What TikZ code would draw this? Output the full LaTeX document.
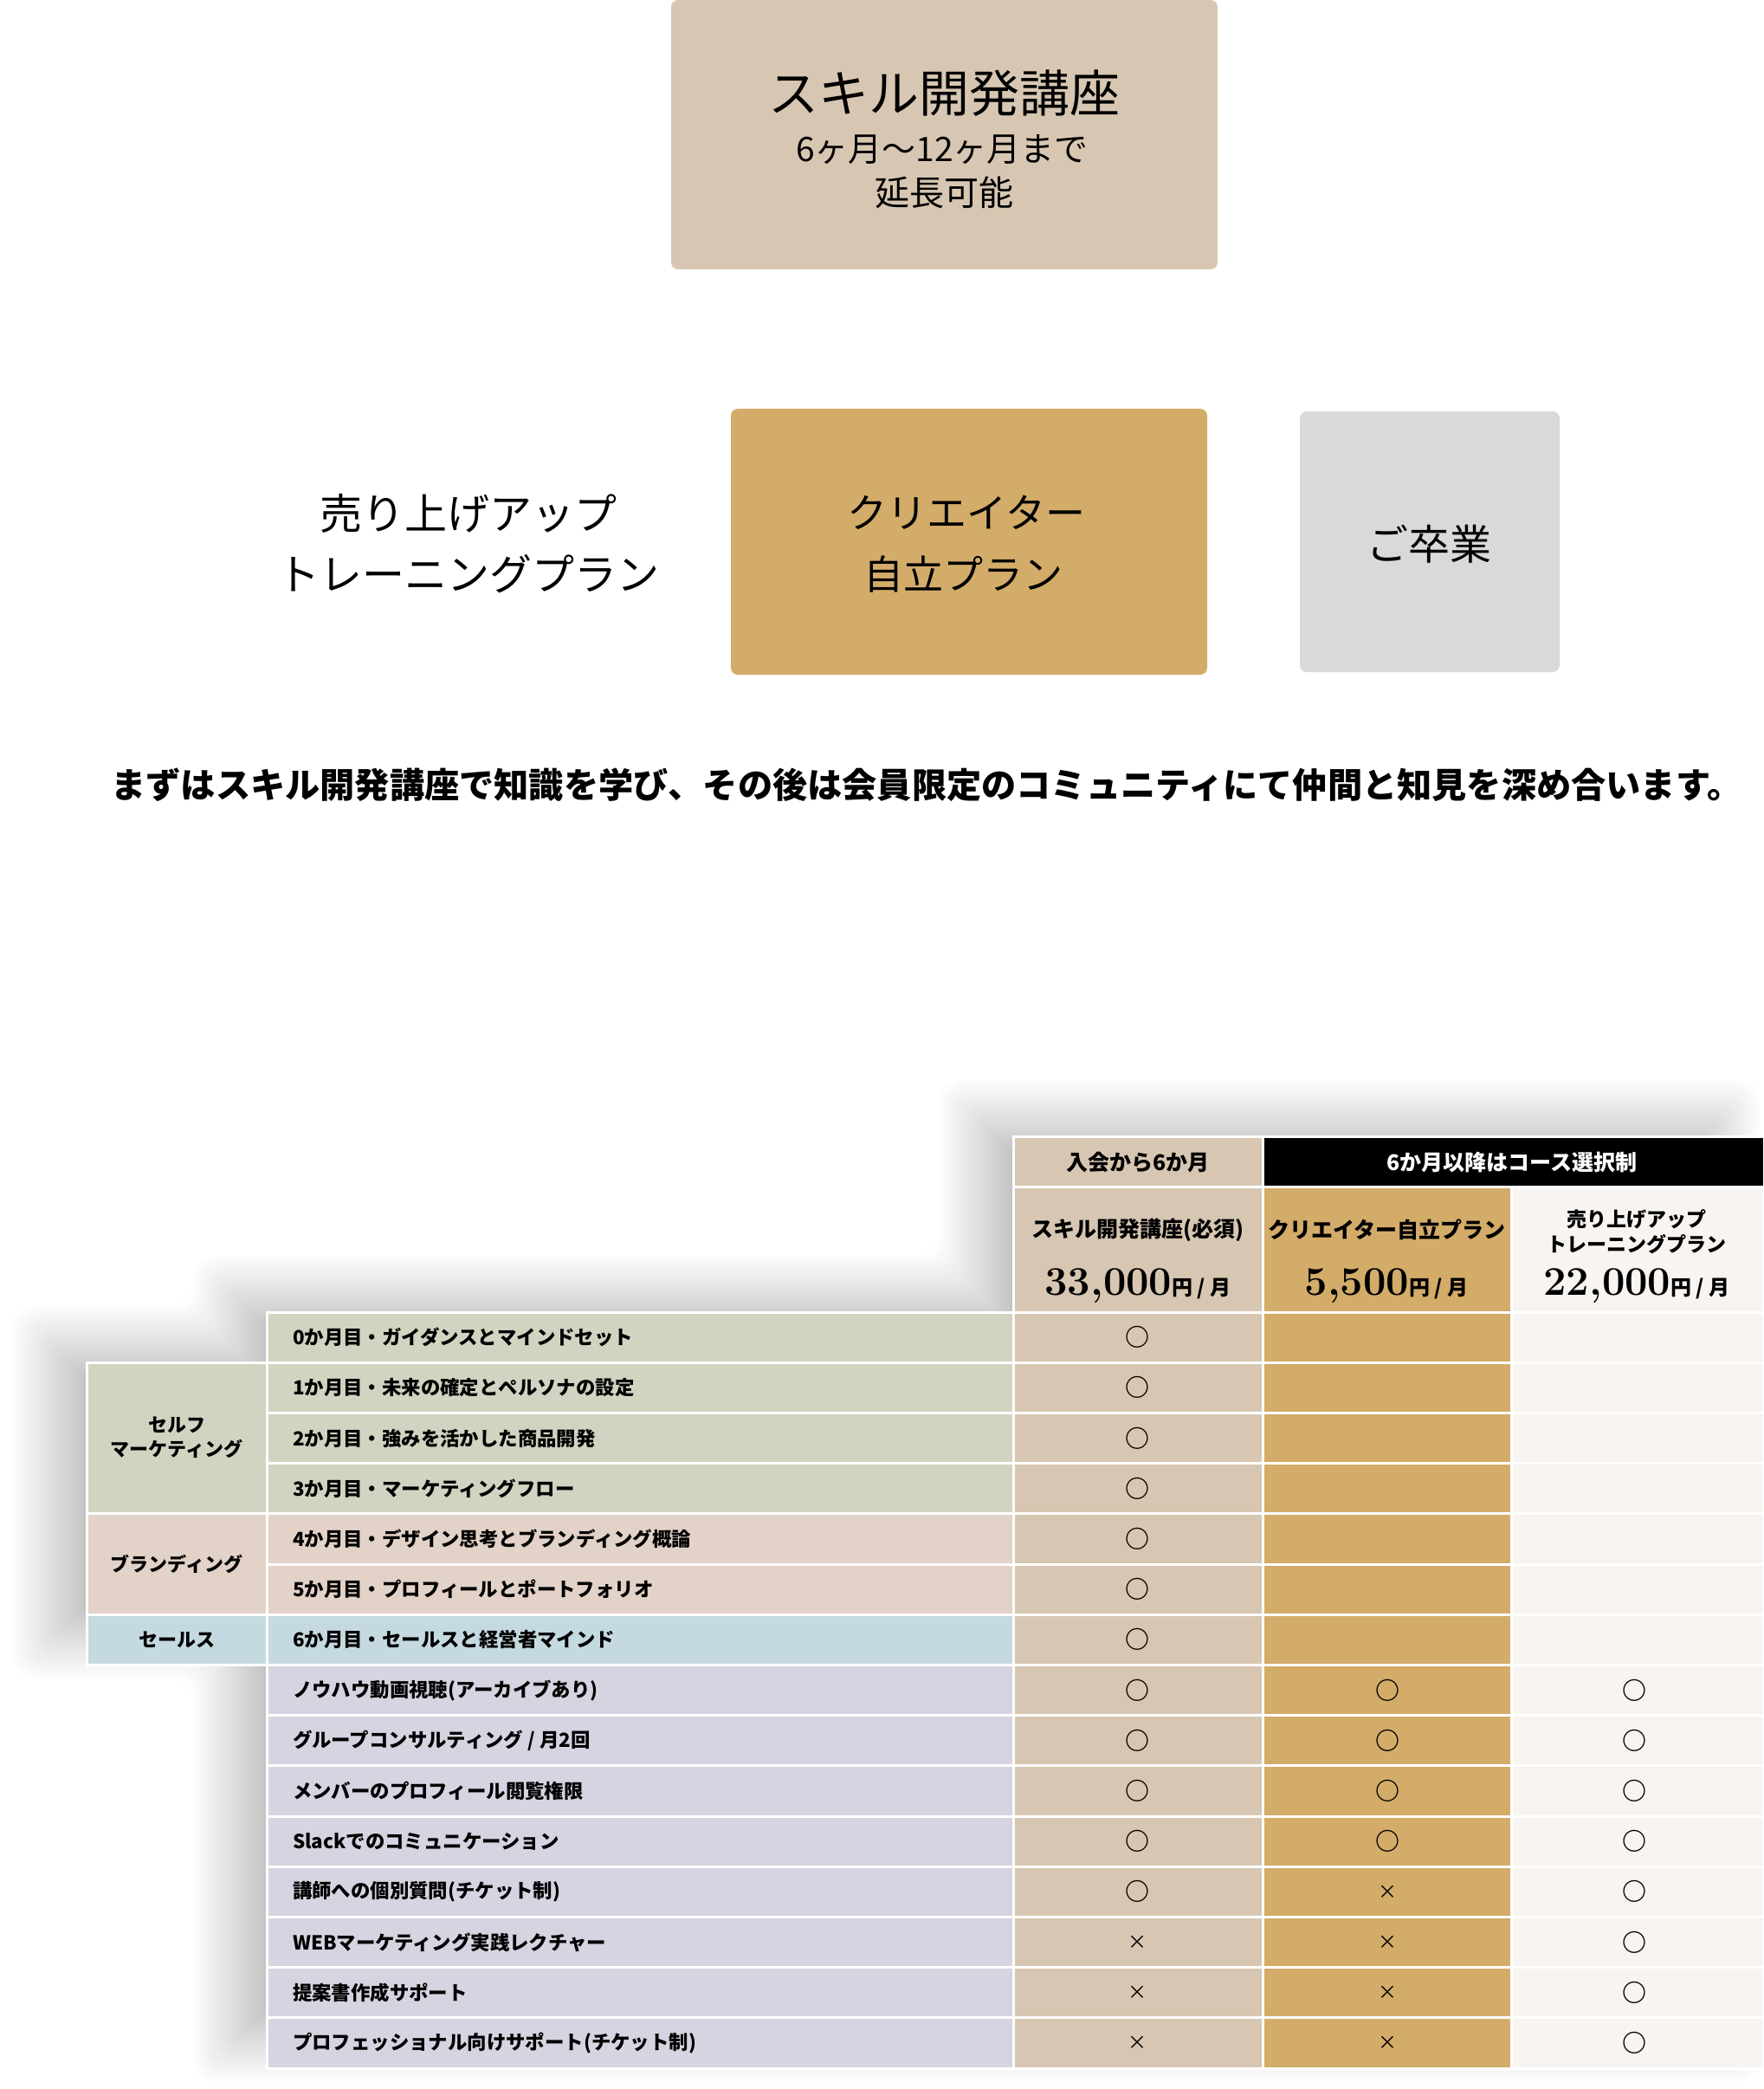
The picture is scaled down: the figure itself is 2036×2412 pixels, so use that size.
\documentclass[tikz,border=0pt]{standalone}
\usepackage{fontspec}
\setmainfont{Noto Sans CJK JP}
\newfontfamily\numf{Latin Modern Roman}
\definecolor{skillcol}{HTML}{D7C7B2}
\definecolor{goldcol}{HTML}{D3AC69}
\definecolor{greycol}{HTML}{D9D9D8}
\definecolor{creamcol}{HTML}{F7F4F1}
\definecolor{mkcol}{HTML}{D2D3C1}
\definecolor{brcol}{HTML}{E2D2C8}
\definecolor{slcol}{HTML}{C5DAE0}
\definecolor{knowcol}{HTML}{D5D4E1}
\newcommand\fsz[1]{\fontsize{#1}{#1}\selectfont}
\newcommand\okmark{{\fsz{14}\bfseries ○}}
\newcommand\nomark{{\fsz{11}×}}

\begin{document}
\begin{tikzpicture}[x=0.5pt, y=-0.5pt,
    box/.style={rounded corners=4pt, inner sep=0pt},
    cell/.style={draw=white, line width=1.5pt},
    hdtxt/.style={font=\fsz{12.5}\bfseries},
    price/.style={anchor=base, font=\fsz{12}\bfseries},
    rowtxt/.style={anchor=west, font=\fsz{11.2}\bfseries},
    labtxt/.style={align=center, font=\fsz{11}\bfseries},
    marktxt/.style={inner sep=0pt}]
    \useasboundingbox (0,0) rectangle (2036,2412);

    \node[box, fill=skillcol, minimum width=315.5pt, minimum height=155.5pt] (skill) at (1090.5,155.5) {};
    \node[font=\fsz{29}] (skilltitle) at (1090,108) {スキル開発講座};
    \node[font=\fsz{19.5}] (skillterm) at (1088,173) {6ヶ月〜12ヶ月まで};
    \node[font=\fsz{20}] (skillext) at (1090,222) {延長可能};

    \node[font=\fsz{24.5}] (upsell1) at (541,593) {売り上げアップ};
    \node[font=\fsz{24.5}] (upsell2) at (541,663) {トレーニングプラン};
    \node[box, fill=goldcol, minimum width=275pt, minimum height=153.5pt] (creator) at (1119,625.5) {};
    \node[font=\fsz{23}] (creator1) at (1116,592) {クリエイター};
    \node[font=\fsz{23}] (creator2) at (1112,663) {自立プラン};
    \node[box, fill=greycol, minimum width=150pt, minimum height=150.5pt] (grad) at (1651,625.5) {};
    \node[font=\fsz{24}] (gradtxt) at (1650,628) {ご卒業};

    \node[font=\fsz{20.1}\bfseries] (lead) at (1070,906) {まずはスキル開発講座で知識を学び、その後は会員限定のコミュニティにて仲間と知見を深め合います。};

    \foreach \o [evaluate=\o as \g using {24*(0.5-\o/90)}, evaluate=\o as \rc using {(\o+45)*0.15}] in {45,40,...,-45}
      \fill[black!\g, rounded corners=\rc pt, xshift=-22.5pt, yshift=12.5pt]
        (1170-\o,1312-\o) -- (2037+\o,1312-\o) -- (2037+\o,2388+\o) -- (308-\o,2388+\o)
        -- (308-\o,1922+\o) -- (100-\o,1922+\o) -- (100-\o,1573-\o) -- (308-\o,1573-\o)
        -- (308-\o,1515-\o) -- (1170-\o,1515-\o) -- cycle;

    \filldraw[cell, fill=skillcol] (1170,1312) rectangle (1458,1370);
    \filldraw[cell, fill=black] (1458,1312) rectangle (2037,1370);
    \filldraw[cell, fill=skillcol] (1170,1370) rectangle (1458,1515);
    \filldraw[cell, fill=goldcol] (1458,1370) rectangle (1745,1515);
    \filldraw[cell, fill=creamcol] (1745,1370) rectangle (2037,1515);
    \node[hdtxt] (first) at (1314,1342) {入会から6か月};
    \node[hdtxt, text=white] (choice) at (1746,1342) {6か月以降はコース選択制};
    \node[hdtxt] (nameA) at (1314,1420) {スキル開発講座(必須)};
    \node[hdtxt] (nameB) at (1601,1420) {クリエイター自立プラン};
    \node[hdtxt, font=\fsz{11.5}\bfseries] (nameC1) at (1890,1408) {売り上げアップ};
    \node[hdtxt, font=\fsz{11.5}\bfseries] (nameC2) at (1890,1437) {トレーニングプラン};
    \node[price] (priceA) at (1314,1495) {{\numf\fsz{23.5}33,000}円 / 月};
    \node[price] (priceB) at (1601,1495) {{\numf\fsz{23.5}5,500}円 / 月};
    \node[price] (priceC) at (1890,1495) {{\numf\fsz{23.5}22,000}円 / 月};

    \foreach \i/\c/\t/\a/\b/\d in {
        0/mkcol/{0か月目・ガイダンスとマインドセット}/\okmark/{}/{},
        1/mkcol/{1か月目・未来の確定とペルソナの設定}/\okmark/{}/{},
        2/mkcol/{2か月目・強みを活かした商品開発}/\okmark/{}/{},
        3/mkcol/{3か月目・マーケティングフロー}/\okmark/{}/{},
        4/brcol/{4か月目・デザイン思考とブランディング概論}/\okmark/{}/{},
        5/brcol/{5か月目・プロフィールとポートフォリオ}/\okmark/{}/{},
        6/slcol/{6か月目・セールスと経営者マインド}/\okmark/{}/{},
        7/knowcol/{ノウハウ動画視聴(アーカイブあり)}/\okmark/\okmark/\okmark,
        8/knowcol/{グループコンサルティング / 月2回}/\okmark/\okmark/\okmark,
        9/knowcol/{メンバーのプロフィール閲覧権限}/\okmark/\okmark/\okmark,
        10/knowcol/{Slackでのコミュニケーション}/\okmark/\okmark/\okmark,
        11/knowcol/{講師への個別質問(チケット制)}/\okmark/\nomark/\okmark,
        12/knowcol/{WEBマーケティング実践レクチャー}/\nomark/\nomark/\okmark,
        13/knowcol/{提案書作成サポート}/\nomark/\nomark/\okmark,
        14/knowcol/{プロフェッショナル向けサポート(チケット制)}/\nomark/\nomark/\okmark} {
      \filldraw[cell, fill=\c] (308,{1515+58.2*\i}) rectangle (1170,{1573.2+58.2*\i});
      \filldraw[cell, fill=skillcol] (1170,{1515+58.2*\i}) rectangle (1458,{1573.2+58.2*\i});
      \filldraw[cell, fill=goldcol] (1458,{1515+58.2*\i}) rectangle (1745,{1573.2+58.2*\i});
      \filldraw[cell, fill=creamcol] (1745,{1515+58.2*\i}) rectangle (2037,{1573.2+58.2*\i});
      \node[rowtxt] (item\i) at (331,{1544.1+58.2*\i}) {\t};
      \node[marktxt] (ma\i) at (1313,{1544.1+58.2*\i}) {\a};
      \node[marktxt] (mb\i) at (1602,{1544.1+58.2*\i}) {\b};
      \node[marktxt] (mc\i) at (1887,{1544.1+58.2*\i}) {\d};
    }

    \filldraw[cell, fill=mkcol] (100,1573.2) rectangle (308,1747.8);
    \filldraw[cell, fill=brcol] (100,1747.8) rectangle (308,1864.2);
    \filldraw[cell, fill=slcol] (100,1864.2) rectangle (308,1922.4);
    \node[labtxt] (self) at (204,1660) {セルフ\\[3pt]マーケティング};
    \node[labtxt] (brand) at (204,1806) {ブランディング};
    \node[labtxt] (sales) at (204,1893) {セールス};
\end{tikzpicture}
\end{document}
